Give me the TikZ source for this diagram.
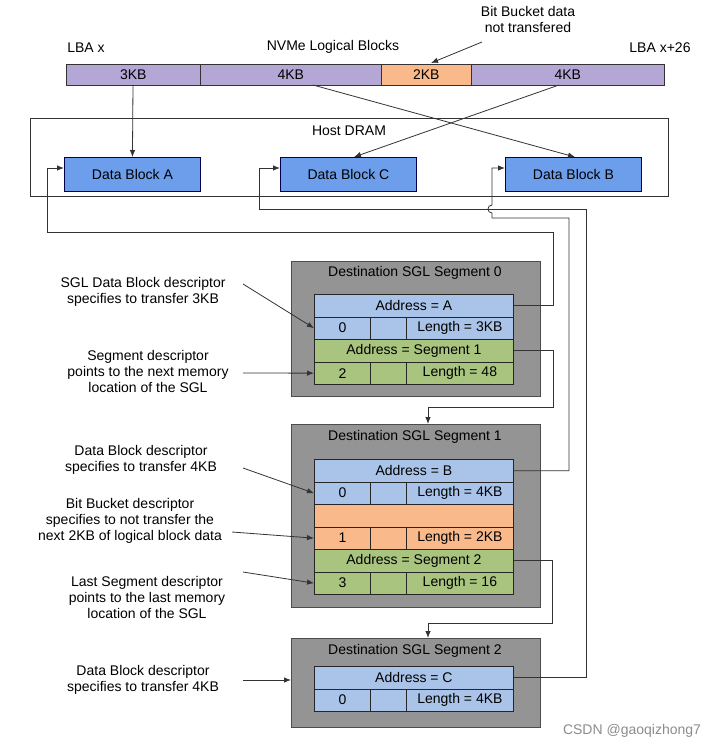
\documentclass[tikz,border=0pt]{standalone}
\usepackage{fontspec}
\setmainfont{Liberation Sans}
\usetikzlibrary{arrows.meta}
\begin{document}
\begin{tikzpicture}[x=1pt,y=-1pt,
  every node/.style={font=\fontsize{14}{16}\selectfont},
  ln/.style={draw=black!80,line width=0.8pt},
  arr/.style={ln,-{Latex[length=7pt,width=5.5pt]}},
  bar/.style={draw=black!80,fill=#1,line width=0.7pt,inner sep=0,anchor=north west},
  db/.style={draw=blue!30!black,fill=dbb,line width=0.9pt,minimum width=136,minimum height=34,inner sep=0,anchor=north west},
  seg/.style={draw=black!70,fill=black!42,line width=0.8pt,minimum width=249,anchor=north west,inner sep=0},
  cell/.style={draw=black!85,fill=#1,line width=0.8pt,minimum height=22.5,inner sep=0,anchor=north west},
  lbl/.style={align=center}]
\definecolor{pur}{HTML}{B4A7D6}
\definecolor{org}{HTML}{F9B98A}
\definecolor{lb}{HTML}{A9C4E8}
\definecolor{gr}{HTML}{A9C47F}
\definecolor{dbb}{HTML}{6D9EEB}
\fill[white] (0,0) rectangle (720,752);
\useasboundingbox (0,0) rectangle (720,752);
% top bar
\node[bar=pur,minimum width=134,minimum height=21] (k1) at (66,64) {3KB};
\node[bar=pur,minimum width=181,minimum height=21] (k2) at (200,64) {4KB};
\node[bar=org,minimum width=90,minimum height=21] (k3) at (381,64) {2KB};
\node[bar=pur,minimum width=193,minimum height=21] (k4) at (471,64) {4KB};
\node (lbax) at (86,48) {LBA x};
\node (nvme) at (333,47) {NVMe Logical Blocks};
\node (lbay) at (660,48) {LBA x+26};
\node[lbl] (bb) at (528,19) {Bit Bucket data\\not transfered};
\draw[arr] (482,42) -- (431,63);
% host dram
\node[draw=black!80,line width=0.7pt,minimum width=638,minimum height=78,anchor=north west,inner sep=0] (dram) at (30,118) {};
\node (dramt) at (349,131) {Host DRAM};
\node[db] (A) at (64,157) {Data Block A};
\node[db] (C) at (280,157) {Data Block C};
\node[db] (B) at (505,157) {Data Block B};
\draw[arr] (133,85) -- (A.north);
\draw[arr] (313,85) -- (575,157);
\draw[arr] (559,85) -- (354,157);
% segment 0
\node[seg,minimum height=135] (s0) at (291,261) {};
\node (s0t) at (415,273) {Destination SGL Segment 0};
\node[cell=lb,minimum width=199] (a0) at (314,294) {Address = A};
\node[cell=lb,minimum width=56] (a0c1) at (314,316.5) {0};
\node[cell=lb,minimum width=36] (a0c2) at (370,316.5) {};
\node[cell=lb,minimum width=107] (a0c3) at (406,316.5) {Length = 3KB};
\node[cell=gr,minimum width=199] (g0) at (314,339) {Address = Segment 1};
\node[cell=gr,minimum width=56] (g0c1) at (314,361.5) {2};
\node[cell=gr,minimum width=36] (g0c2) at (370,361.5) {};
\node[cell=gr,minimum width=107] (g0c3) at (406,361.5) {Length = 48};
% segment 1
\node[seg,minimum height=183] (s1) at (291,424) {};
\node (s1t) at (415,437) {Destination SGL Segment 1};
\node[cell=lb,minimum width=199] (a1) at (314,459) {Address = B};
\node[cell=lb,minimum width=56] (a1c1) at (314,481.5) {0};
\node[cell=lb,minimum width=36] (a1c2) at (370,481.5) {};
\node[cell=lb,minimum width=107] (a1c3) at (406,481.5) {Length = 4KB};
\node[cell=org,minimum width=199] (o1) at (314,504) {};
\node[cell=org,minimum width=56] (o1c1) at (314,526.5) {1};
\node[cell=org,minimum width=36] (o1c2) at (370,526.5) {};
\node[cell=org,minimum width=107] (o1c3) at (406,526.5) {Length = 2KB};
\node[cell=gr,minimum width=199] (g1) at (314,549) {Address = Segment 2};
\node[cell=gr,minimum width=56] (g1c1) at (314,571.5) {3};
\node[cell=gr,minimum width=36] (g1c2) at (370,571.5) {};
\node[cell=gr,minimum width=107] (g1c3) at (406,571.5) {Length = 16};
% segment 2
\node[seg,minimum height=89] (s2) at (291,638) {};
\node (s2t) at (415,651) {Destination SGL Segment 2};
\node[cell=lb,minimum width=199] (a2) at (314,666) {Address = C};
\node[cell=lb,minimum width=56] (a2c1) at (314,688.5) {0};
\node[cell=lb,minimum width=36] (a2c2) at (370,688.5) {};
\node[cell=lb,minimum width=107] (a2c3) at (406,688.5) {Length = 4KB};
% return connectors
\draw[arr] (a0.east) -| (553,232) -| (47,168) -- (A.west |- 0,168);
\draw[arr] (a2.east) -| (586,209) -| (259,168) -- (C.west |- 0,168);
\draw[arr] (a1.east) -| (569,218) -- (492,218) -- (492,213) .. controls (486.7,213) and (486.7,205) .. (492,205) -- (492,168) -- (B.west |- 0,168);
% segment chaining
\draw[arr] (g0.east) -| (553,407) -| (s1.north -| 428,0);
\draw[arr] (g1.east) -| (552,623) -| (s2.north -| 428,0);
% left labels
\node[lbl] (l1) at (143,292) {SGL Data Block descriptor\\specifies to transfer 3KB};
\draw[arr] (243,284) -- (a0c1.west);
\node[lbl] (l2) at (148,371) {Segment descriptor\\points to the next memory\\location of the SGL};
\draw[arr] (243,373) -- (g0c1.west);
\node[lbl] (l3) at (141,460) {Data Block descriptor\\specifies to transfer 4KB};
\draw[arr] (243,468) -- (a1c1.west);
\node[lbl] (l4) at (130,521) {Bit Bucket descriptor\\specifies to not transfer the\\next 2KB of logical block data};
\draw[arr] (232,532) -- (o1c1.west);
\node[lbl] (l5) at (147,597) {Last Segment descriptor\\points to the last memory\\location of the SGL};
\draw[arr] (243,572) -- (g1c1.west);
\node[lbl] (l6) at (143,680) {Data Block descriptor\\specifies to transfer 4KB};
\draw[arr] (243,680) -- (s2.west |- 0,680);
\node[text=black!45] (wm) at (632,731) {CSDN @gaoqizhong7};
\end{tikzpicture}
\end{document}
